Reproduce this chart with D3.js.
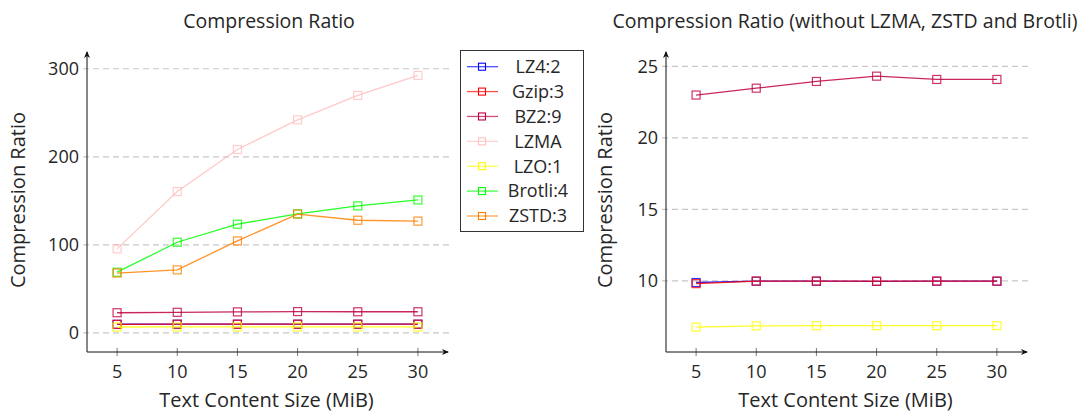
<!DOCTYPE html>
<html>
<head>
<meta charset="utf-8">
<script src="https://cdn.jsdelivr.net/npm/d3@7"></script>
<style>
  body { margin: 0; background: #fff; }
  svg text { font-family: "Open Sans", Lato, sans-serif; fill: #262626; }
</style>
</head>
<body>
<div id="chart"></div>
<script>
// data
const sizes = [5, 10, 15, 20, 25, 30];
const lz4 = [9.88, 9.97, 9.97, 9.96, 9.97, 9.97];
const gzip = [9.8, 9.98, 9.98, 9.97, 9.98, 9.98];
const bz2 = [22.99, 23.47, 23.94, 24.31, 24.08, 24.08];
const lzma = [95.5, 160.6, 208.3, 242, 269.7, 292.4];
const lzo = [6.76, 6.85, 6.86, 6.86, 6.86, 6.86];
const brotli = [69, 103, 123.5, 135.2, 144.3, 151];
const zstd = [68, 71.6, 104.5, 135, 128, 127];

const seriesNames = ["LZ4:2", "Gzip:3", "BZ2:9", "LZMA", "LZO:1", "Brotli:4", "ZSTD:3"];
const seriesValues = [lz4, gzip, bz2, lzma, lzo, brotli, zstd];
const seriesColors = ["#0000ff", "#ff0000", "#bf0040", "#ffbfbf", "#ffff00", "#00ff00", "#ff8000"];

const leftTicks = [0, 100, 200, 300];
const rightTicks = [10, 15, 20, 25];
const rightSeries = ["LZ4:2", "Gzip:3", "BZ2:9", "LZO:1"];

const width = 1091, height = 412;
const svg = d3.select("#chart").append("svg")
  .attr("width", width)
  .attr("height", height);

const series = seriesNames.map((name, i) => ({
  name: name,
  color: seriesColors[i],
  values: sizes.map((s, j) => ({ x: s, y: seriesValues[i][j] }))
}));

function drawPanel(opts) {
  const g = svg.append("g");
  const x = d3.scaleLinear().domain([2.5, 32.5]).range([opts.left, opts.right]);
  const y = d3.scaleLinear().domain(opts.yDomain).range([352, 52]);

  // dashed grid
  g.selectAll(".grid")
    .data(opts.yTicks)
    .enter()
    .append("line")
    .attr("x1", opts.left - 4)
    .attr("x2", opts.right + 3)
    .attr("y1", d => y(d))
    .attr("y2", d => y(d))
    .attr("stroke", "#c8c8c8")
    .attr("stroke-width", 1.2)
    .attr("stroke-dasharray", "6,4");

  // y tick labels
  g.selectAll(".ylab")
    .data(opts.yTicks)
    .enter()
    .append("text")
    .attr("x", opts.left - 8)
    .attr("y", d => y(d))
    .attr("dy", "0.35em")
    .attr("text-anchor", "end")
    .attr("font-size", "18px")
    .text(d => d);

  // x ticks
  g.selectAll(".xtick")
    .data(sizes)
    .enter()
    .append("line")
    .attr("x1", d => x(d))
    .attr("x2", d => x(d))
    .attr("y1", 348)
    .attr("y2", 356)
    .attr("stroke", "#555")
    .attr("stroke-width", 0.8);

  g.selectAll(".xlab")
    .data(sizes)
    .enter()
    .append("text")
    .attr("x", d => x(d))
    .attr("y", 372)
    .attr("dy", "0.35em")
    .attr("text-anchor", "middle")
    .attr("font-size", "18px")
    .text(d => d);

  // axes with arrow heads
  g.append("line")
    .attr("x1", opts.left).attr("x2", opts.left)
    .attr("y1", 352).attr("y2", 52)
    .attr("stroke", "#111").attr("stroke-width", 1);
  g.append("line")
    .attr("x1", opts.left).attr("x2", opts.right)
    .attr("y1", 352).attr("y2", 352)
    .attr("stroke", "#111").attr("stroke-width", 1);
  g.append("path")
    .attr("d", `M${opts.left - 3},${58} L${opts.left},${51} L${opts.left + 3},${58} L${opts.left},${56} Z`)
    .attr("fill", "#111");
  g.append("path")
    .attr("d", `M${opts.right - 6},${349} L${opts.right + 1},${352} L${opts.right - 6},${355} L${opts.right - 4},${352} Z`)
    .attr("fill", "#111");

  // lines + markers
  const line = d3.line().x(d => x(d.x)).y(d => y(d.y));
  const shown = series.filter(s => opts.names.includes(s.name));

  shown.forEach(s => {
    g.append("path")
      .datum(s.values)
      .attr("d", line)
      .attr("fill", "none")
      .attr("stroke", s.color)
      .attr("stroke-width", 1.3)
      .attr("stroke-opacity", 0.85);
    g.selectAll(null)
      .data(s.values)
      .enter()
      .append("rect")
      .attr("x", d => x(d.x) - 4)
      .attr("y", d => y(d.y) - 4)
      .attr("width", 8)
      .attr("height", 8)
      .attr("fill", "none")
      .attr("stroke", s.color)
      .attr("stroke-width", 1.2)
      .attr("stroke-opacity", 0.8);
  });

  // titles
  g.append("text")
    .attr("x", opts.titleX)
    .attr("y", 21)
    .attr("dy", "0.35em")
    .attr("text-anchor", "middle")
    .attr("font-size", "19.5px")
    .text(opts.title);

  g.append("text")
    .attr("x", (opts.left + opts.right) / 2 - 1)
    .attr("y", 400)
    .attr("dy", "0.35em")
    .attr("text-anchor", "middle")
    .attr("font-size", "20px")
    .text("Text Content Size (MiB)");

  g.append("text")
    .attr("transform", `translate(${opts.ylabX},${200}) rotate(-90)`)
    .attr("dy", "0.35em")
    .attr("text-anchor", "middle")
    .attr("font-size", "20px")
    .text("Compression Ratio");
}

drawPanel({
  left: 87, right: 448,
  yDomain: [-21.6, 319],
  yTicks: leftTicks,
  names: seriesNames,
  title: "Compression Ratio",
  titleX: 269,
  ylabX: 18
});

drawPanel({
  left: 666, right: 1027,
  yDomain: [5.02, 26],
  yTicks: rightTicks,
  names: rightSeries,
  title: "Compression Ratio (without LZMA, ZSTD and Brotli)",
  titleX: 845,
  ylabX: 605
});

// legend
const legend = svg.append("g");
legend.append("rect")
  .attr("x", 460.5).attr("y", 50.5)
  .attr("width", 123).attr("height", 181)
  .attr("fill", "#fff")
  .attr("stroke", "#333")
  .attr("stroke-width", 1);

const legendY = d3.scalePoint().domain(seriesNames).range([66.7, 216]);

const items = legend.selectAll(".item")
  .data(series)
  .enter()
  .append("g")
  .attr("transform", d => `translate(0,${legendY(d.name)})`);

items.append("line")
  .attr("x1", 467).attr("x2", 498)
  .attr("y1", 0).attr("y2", 0)
  .attr("stroke", d => d.color)
  .attr("stroke-width", 1.3)
  .attr("stroke-opacity", 0.7);
items.append("rect")
  .attr("x", 478.5).attr("y", -3.5)
  .attr("width", 7).attr("height", 7)
  .attr("fill", "none")
  .attr("stroke", d => d.color)
  .attr("stroke-width", 1.1);
items.append("text")
  .attr("x", 538)
  .attr("dy", "0.35em")
  .attr("text-anchor", "middle")
  .attr("font-size", "18px")
  .text(d => d.name);
</script>
</body>
</html>
